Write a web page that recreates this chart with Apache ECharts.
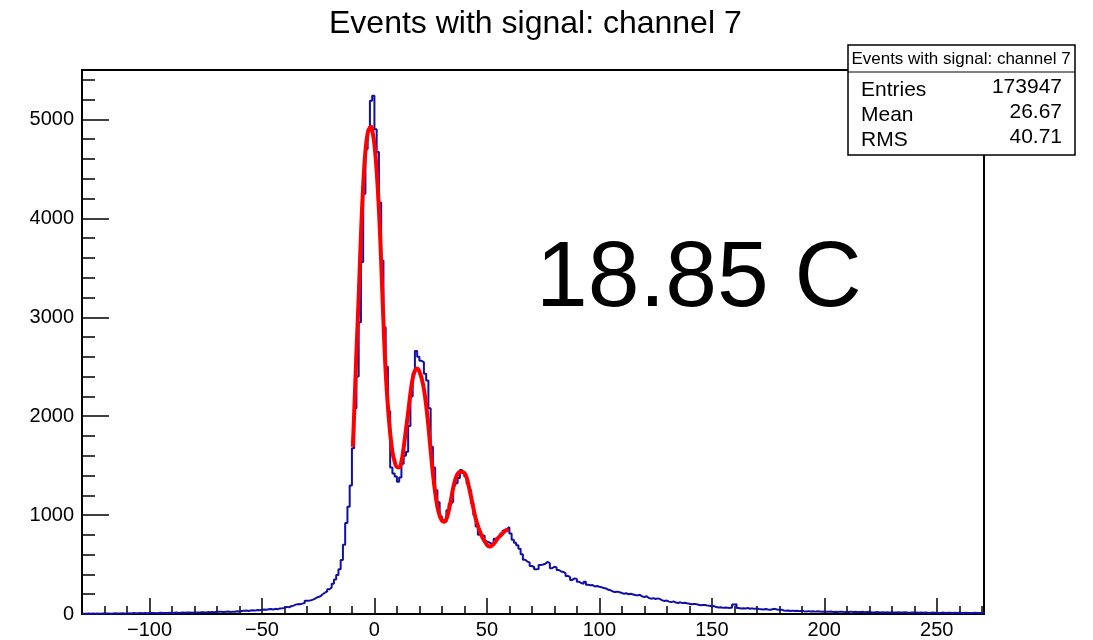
<!DOCTYPE html>
<html><head><meta charset="utf-8">
<script src="https://cdn.jsdelivr.net/npm/echarts@6/dist/echarts.min.js"></script>
<style>html,body{margin:0;padding:0;background:#fff}#c{width:1093px;height:640px}</style>
</head><body><div id="c"></div>
<script>
const titleText = 'Events with signal: channel 7';
const binStart = -130;
const binWidth = 1;
const counts = [
  2,3,5,3,4,2,6,3,4,5,
  4,6,3,5,7,4,5,8,6,5,
  7,6,9,8,7,10,8,9,7,10,
  9,11,8,10,12,9,11,10,13,11,
  12,14,11,13,15,12,14,16,13,15,
  16,14,18,17,15,19,17,20,18,22,
  24,22,20,23,26,21,24,22,27,25,
  30,33,35,31,36,38,34,40,37,42,
  45,43,48,50,46,52,49,55,58,62,
  72,68,78,85,95,100,98,105,112,134,
  135,140,148,160,172,180,200,215,228,250,
  268,305,348,395,452,545,700,920,1084,1300,
  1677,2080,2400,2950,3560,4250,4700,4900,5190,5240,
  4900,4670,4160,3575,2900,2500,2050,1480,1420,1390,
  1336,1380,1520,1600,1640,1900,2200,2430,2660,2600,
  2560,2545,2430,2360,2080,1690,1480,1250,1130,985,
  950,930,1050,1115,1135,1300,1325,1375,1455,1430,
  1390,1320,1250,1120,1000,885,800,800,790,735,
  725,712,715,760,775,790,815,845,860,878,
  815,750,720,695,660,605,548,530,522,485,
  475,452,455,495,500,508,528,512,462,478,
  470,445,430,425,411,385,372,345,360,355,
  326,312,305,326,295,290,292,278,284,276,
  270,262,258,245,240,228,222,226,220,212,
  205,210,200,204,198,192,188,195,178,172,
  180,162,155,160,152,158,150,138,132,136,
  125,120,128,116,112,118,110,114,108,104,
  98,102,100,94,88,92,90,86,84,78,
  80,70,66,68,62,66,64,60,65,95,
  98,60,56,58,55,60,54,57,52,55,
  50,48,45,50,46,44,48,52,45,42,
  44,36,32,35,30,34,31,33,29,32,
  28,26,29,25,27,24,28,26,23,25,
  24,22,25,21,23,20,24,22,19,23,
  21,24,20,22,19,21,23,18,20,22,
  18,16,19,17,15,18,16,17,14,18,
  16,15,17,14,16,18,15,13,16,14,
  15,13,14,12,15,13,11,14,12,13,
  11,12,14,10,12,13,11,12,10,13,
  11,9,12,10,11,9,12,10,11,9,
  10
];
const fitX = [-9.6,-9,-8,-7,-6,-5,-4,-3,-2,-1.5,-1,
  0,1,2,3,4,5,6,7,8,9,
  10,11,12,13,14,15,16,17,18,19,
  20,21,22,23,24,25,26,27,28,29,
  30,31,32,33,34,35,36,37,38,39,
  40,41,42,43,44,45,46,47,48,49,
  50,51,52,53,54,55,56,57,58,59,59.6];
const fitY = [1690,2030,2640,3200,3820,4330,4680,4860,4920,4925,4895,
  4750,4480,4090,3560,2960,2450,2100,1830,1640,1540,
  1485,1482,1540,1680,1860,2040,2230,2380,2460,2482,
  2450,2380,2275,2110,1900,1650,1420,1230,1084,995,
  945,932,960,1040,1151,1275,1365,1418,1435,1436,
  1425,1380,1285,1180,1070,965,892,830,775,735,
  700,682,688,708,738,768,792,815,838,850,855];
const statsTitle = 'Events with signal: channel 7';
const statsLabels = ['Entries', 'Mean', 'RMS'];
const statsValues = ['173947', '26.67', '40.71'];
const annotation = '18.85 C';
const xMin = -130, xMax = 271, xMajor = 50, xMinor = 10;
const yMin = 0, yMax = 5500, yMajor = 1000, yMinor = 200;

const histData = counts.map((c, i) => [binStart + i * binWidth, c]);
histData.push([binStart + counts.length * binWidth, counts[counts.length - 1]]);
const fitData = fitX.map((x, i) => [x, fitY[i]]);

const FONT = "'Liberation Sans', Arial, Helvetica, sans-serif";
const minus = v => String(v).replace('-', '\u2212');

const statsGraphics = [
  {type:'rect', z:100, shape:{x:848, y:45, width:227, height:110}, style:{fill:'#fff', stroke:'#000', lineWidth:1.5}},
  {type:'line', z:101, shape:{x1:848, y1:72, x2:1075, y2:72}, style:{stroke:'#000', lineWidth:1.2}},
  {type:'text', z:101, x:961, y:59, style:{text:statsTitle, font:'17px ' + FONT, fill:'#000', textAlign:'center', textVerticalAlign:'middle', align:'center', verticalAlign:'middle'}}
];
const labelYs = [90, 115, 140];
const valueYs = [87.5, 112, 137.5];
statsLabels.forEach((t, i) => {
  statsGraphics.push({type:'text', z:101, x:861, y:labelYs[i], style:{text:t, font:'21px ' + FONT, fill:'#000', textAlign:'left', textVerticalAlign:'middle', align:'left', verticalAlign:'middle'}});
  statsGraphics.push({type:'text', z:101, x:1062, y:valueYs[i], style:{text:statsValues[i], font:'21px ' + FONT, fill:'#000', textAlign:'right', textVerticalAlign:'middle', align:'right', verticalAlign:'middle'}});
});
statsGraphics.push({type:'text', z:101, x:536, y:280, style:{text:annotation, font:'93px ' + FONT, fill:'#000', textAlign:'left', textVerticalAlign:'middle', align:'left', verticalAlign:'middle'}});

const chart = echarts.init(document.getElementById('c'), null, {renderer:'canvas'});
chart.setOption({
  animation: false,
  backgroundColor: '#fff',
  title: {text: titleText, left: 329, top: 8, padding: 0,
    textStyle: {fontFamily: FONT, fontSize: 32, fontWeight: 'normal', color: '#000'}},
  grid: {left: 82, right: 109, top: 70, bottom: 26, show: true, borderColor: '#000', borderWidth: 2, backgroundColor: 'transparent'},
  xAxis: [
    {type:'value', min:xMin, max:xMax, minInterval:xMajor, maxInterval:xMajor, splitNumber:8, position:'bottom',
      axisLine:{show:true, onZero:false, lineStyle:{color:'#000', width:2}},
      axisTick:{show:true, inside:true, length:16, lineStyle:{color:'#000', width:1.5}},
      axisLabel:{show:true, margin:6, fontFamily:FONT, fontSize:20, color:'#000', formatter: v => minus(v), showMinLabel:false, showMaxLabel:false},
      splitLine:{show:false}, minorTick:{show:false}, minorSplitLine:{show:false}},
    {type:'value', min:xMin, max:xMax, interval:xMinor, position:'bottom', offset:0,
      axisLine:{show:false, onZero:false},
      axisTick:{show:true, inside:true, length:8, lineStyle:{color:'#000', width:1.5}},
      axisLabel:{show:false}, splitLine:{show:false}}
  ],
  yAxis: [
    {type:'value', min:yMin, max:yMax, interval:yMajor, position:'left',
      axisLine:{show:true, onZero:false, lineStyle:{color:'#000', width:2}},
      axisTick:{show:true, inside:true, length:27, lineStyle:{color:'#000', width:1.5}},
      axisLabel:{show:true, margin:8, fontFamily:FONT, fontSize:20, color:'#000', formatter: v => String(v), showMaxLabel:false},
      splitLine:{show:false}},
    {type:'value', min:yMin, max:yMax, interval:yMinor, position:'left', offset:0,
      axisLine:{show:false, onZero:false},
      axisTick:{show:true, inside:true, length:13, lineStyle:{color:'#000', width:1.5}},
      axisLabel:{show:false}, splitLine:{show:false}}
  ],
  series: [
    {type:'line', name:'hist', xAxisIndex:0, yAxisIndex:0, data:histData, step:'end', symbol:'none',
      lineStyle:{color:'#1010a8', width:2}, z:2},
    {type:'line', name:'fit', xAxisIndex:0, yAxisIndex:0, data:fitData, smooth:0.4, symbol:'none',
      lineStyle:{color:'#ff0000', width:4}, z:3}
  ],
  graphic: statsGraphics
});
</script>
</body></html>
